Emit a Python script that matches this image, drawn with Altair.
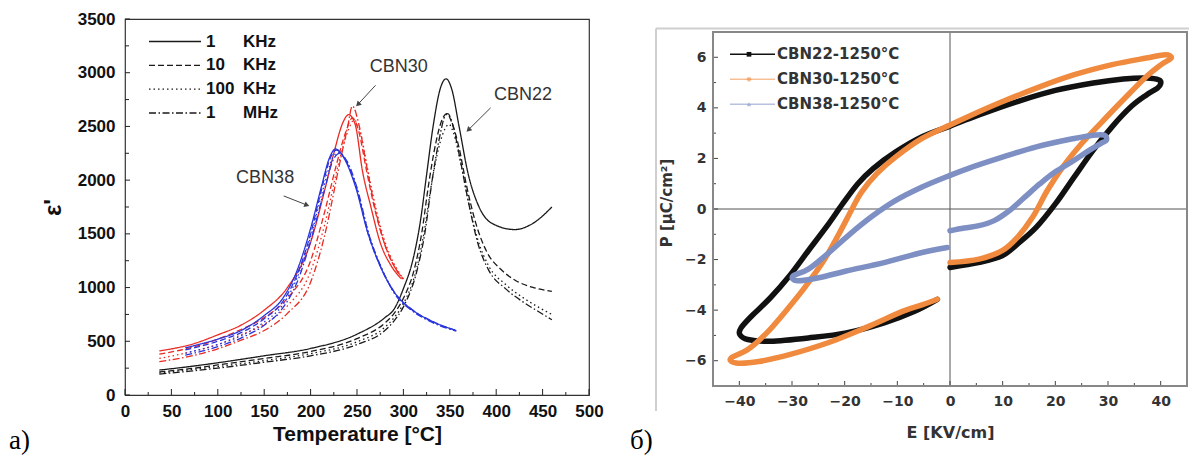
import altair as alt
import pandas as pd

# ---------------- Panel a: permittivity vs temperature ----------------
comps = ["CBN22", "CBN30", "CBN38"]
freqs = ["1 KHz", "10 KHz", "100 KHz", "1 MHz"]

cbn22_T = {
    "1 KHz": [37, 70, 100, 150, 200, 250, 280, 290, 300, 310, 318, 325, 332, 340, 346, 352, 360, 370, 380, 395, 420, 440, 460],
    "10 KHz": [37, 70, 100, 150, 200, 250, 280, 290, 300, 312, 320, 327, 335, 342, 347, 352, 360, 368, 378, 390, 405, 420, 440, 460],
    "100 KHz": [37, 70, 100, 150, 200, 250, 280, 290, 300, 314, 322, 330, 338, 345, 349, 354, 362, 370, 380, 392, 410, 430, 445, 460],
    "1 MHz": [37, 70, 100, 150, 200, 250, 280, 290, 300, 315, 323, 331, 339, 345, 348, 353, 361, 370, 380, 392, 410, 430, 445, 460],
}
cbn22_eps = {
    "1 KHz": [232, 265, 300, 365, 433, 566, 720, 800, 990, 1250, 1600, 2050, 2500, 2860, 2943, 2850, 2500, 2050, 1780, 1600, 1540, 1600, 1750],
    "10 KHz": [215, 245, 280, 340, 405, 525, 670, 760, 900, 1180, 1520, 1950, 2350, 2570, 2620, 2540, 2300, 1950, 1600, 1330, 1170, 1070, 1000, 965],
    "100 KHz": [205, 235, 265, 320, 385, 495, 630, 720, 850, 1170, 1500, 1950, 2300, 2480, 2520, 2440, 2150, 1800, 1450, 1200, 1030, 900, 820, 750],
    "1 MHz": [195, 222, 250, 305, 365, 470, 600, 690, 820, 1170, 1500, 2000, 2400, 2600, 2620, 2520, 2200, 1800, 1420, 1160, 990, 860, 780, 700],
}
cbn30_T = {
    "1 KHz": [37, 75, 100, 125, 150, 175, 200, 215, 225, 235, 241, 248, 256, 265, 275, 287, 298],
    "10 KHz": [37, 75, 100, 125, 150, 175, 200, 215, 228, 238, 245, 252, 260, 270, 280, 290, 300],
    "100 KHz": [37, 75, 100, 125, 150, 175, 200, 215, 230, 240, 247, 254, 262, 272, 282, 292, 300],
    "1 MHz": [37, 75, 100, 125, 150, 175, 200, 215, 230, 240, 245, 252, 260, 270, 280, 290, 300],
}
cbn30_eps = {
    "1 KHz": [410, 480, 560, 650, 790, 1000, 1420, 1900, 2250, 2540, 2610, 2520, 2080, 1750, 1420, 1200, 1080],
    "10 KHz": [380, 450, 520, 610, 720, 900, 1250, 1700, 2150, 2450, 2580, 2450, 2100, 1700, 1400, 1200, 1080],
    "100 KHz": [340, 410, 470, 560, 660, 830, 1150, 1580, 2150, 2450, 2560, 2430, 2080, 1680, 1380, 1190, 1080],
    "1 MHz": [310, 370, 430, 510, 600, 760, 1050, 1480, 2100, 2500, 2690, 2520, 2150, 1720, 1400, 1200, 1080],
}
cbn38_T = {
    "1 KHz": [65, 100, 125, 150, 170, 185, 200, 212, 220, 227, 235, 248, 262, 275, 290, 310, 330, 357],
    "10 KHz": [65, 100, 125, 150, 170, 185, 200, 212, 222, 228, 236, 249, 262, 275, 290, 310, 330, 357],
    "100 KHz": [65, 100, 125, 150, 170, 185, 200, 213, 224, 230, 238, 250, 263, 276, 290, 310, 330, 357],
    "1 MHz": [65, 100, 125, 150, 170, 185, 200, 214, 225, 231, 239, 250, 263, 276, 290, 310, 330, 357],
}
cbn38_eps = {
    "1 KHz": [440, 520, 600, 740, 900, 1150, 1550, 1950, 2200, 2290, 2220, 1950, 1500, 1200, 960, 790, 690, 600],
    "10 KHz": [420, 500, 580, 710, 870, 1110, 1500, 1920, 2220, 2280, 2210, 1940, 1500, 1200, 960, 790, 690, 600],
    "100 KHz": [390, 470, 550, 680, 840, 1080, 1470, 1900, 2210, 2260, 2190, 1920, 1490, 1190, 955, 785, 685, 598],
    "1 MHz": [370, 450, 530, 650, 810, 1040, 1430, 1880, 2200, 2250, 2180, 1930, 1490, 1190, 950, 780, 680, 595],
}

# annotation labels (data coordinates)
ann_labels = ["CBN30", "CBN22", "CBN38"]
ann_text_T = [295, 429, 151]
ann_text_eps = [3053, 2790, 2023]
ann_from_T = [270, 394, 171]
ann_from_eps = [2883, 2673, 1853]
ann_to_T = [251, 370, 196]
ann_to_eps = [2705, 2468, 1768]
ann_angle = [225, 226, 111]

x_major = list(range(0, 501, 50))
x_minor = list(range(25, 500, 50))
y_major = list(range(0, 3501, 500))
y_minor = list(range(250, 3500, 500))

# ---------------- Panel b: hysteresis loops ----------------
loop_names = ["CBN22-1250°C", "CBN30-1250°C", "CBN38-1250°C"]
E22 = [0, 5.6, 9.9, 12.8, 16.4, 20, 23.6, 27.2, 30.8, 34.4, 37.3, 39.4, 40, 39.7, 37.3, 32.9, 27.2, 20, 12.8, 5.5, 0,
       -5.3, -10.3, -14.6, -17.5, -20.4, -23.3, -26.9, -30.5, -34.1, -37.7, -39.7, -39.9, -38.4, -34.1, -26.9, -19.7,
       -12.5, -6.7, -2.4]
P22 = [-2.31, -2.11, -1.85, -1.39, -0.72, 0.2, 1.27, 2.33, 3.26, 4.05, 4.51, 4.78, 4.95, 5.1, 5.18, 5.14, 4.98, 4.69,
       4.25, 3.72, 3.28, 2.86, 2.26, 1.6, 1.0, 0.2, -0.66, -1.65, -2.65, -3.51, -4.24, -4.71, -4.97, -5.16, -5.23, -5.1,
       -4.9, -4.5, -4.04, -3.57]
E30 = [0, 5.5, 9.9, 12.8, 15.7, 18.5, 21.4, 25, 28.6, 32.9, 37.3, 40.1, 42, 40.9, 37.3, 30.8, 23.6, 16.4, 9.2, 3.4, 0,
       -5.3, -10.3, -13.9, -16.8, -18.6, -21.1, -24, -27.6, -31.2, -34.8, -38.4, -41.6, -40.6, -36.3, -30.5, -23.3,
       -16.1, -8.9, -5.3, -2.4]
P30 = [-2.12, -1.98, -1.65, -1.12, -0.32, 0.74, 1.66, 2.59, 3.39, 4.32, 5.24, 5.71, 5.97, 6.1, 5.97, 5.71, 5.31, 4.78,
       4.18, 3.65, 3.32, 2.79, 2.06, 1.4, 0.67, 0.0, -0.99, -2.05, -3.11, -4.04, -4.9, -5.56, -5.9, -6.09, -6.03, -5.76,
       -5.3, -4.7, -4.04, -3.79, -3.57]
E38 = [0, 2.7, 5.5, 8.4, 11.3, 14.2, 17.1, 20, 23.6, 26.5, 28.6, 29.7, 29.3, 27.2, 23.6, 16.4, 9.2, 3.4, 0, -5.3,
       -10.3, -14.6, -19, -23.3, -26.9, -29.8, -29, -24.7, -19.7, -12.5, -5.3, -0.5]
P38 = [-0.86, -0.75, -0.66, -0.46, -0.06, 0.47, 1.0, 1.47, 1.93, 2.33, 2.59, 2.72, 2.92, 2.92, 2.79, 2.46, 2.0, 1.6,
       1.33, 0.87, 0.34, -0.26, -0.99, -1.78, -2.38, -2.65, -2.84, -2.71, -2.45, -2.12, -1.72, -1.52]

e_major = list(range(-40, 41, 10))
e_minor = list(range(-35, 41, 10))
p_major = list(range(-6, 7, 2))
p_minor = list(range(-5, 6, 2))
P_LO, P_HI = -7, 7

# ---------------- build tables ----------------
rows = []
for comp, Td, Ed in [("CBN22", cbn22_T, cbn22_eps), ("CBN30", cbn30_T, cbn30_eps), ("CBN38", cbn38_T, cbn38_eps)]:
    for f in freqs:
        for t, e in zip(Td[f], Ed[f]):
            rows.append({"T": t, "eps": e, "comp": comp, "freq": f})
df_a = pd.DataFrame(rows)

loop_rows = []
for name, Es, Ps in zip(loop_names, [E22, E30, E38], [P22, P30, P38]):
    for i, (e, p) in enumerate(zip(Es, Ps)):
        loop_rows.append({"E": e, "P": p, "sample": name, "i": i})
df_b = pd.DataFrame(loop_rows)

ann_df = pd.DataFrame({"label": ann_labels, "tT": ann_text_T, "tE": ann_text_eps,
                       "fT": ann_from_T, "fE": ann_from_eps, "eT": ann_to_T, "eE": ann_to_eps,
                       "ang": ann_angle})

SANS = "Liberation Sans"
DJ = "DejaVu Sans"
W_A, H_A = 464, 376
W_B, H_B0 = 474, 354          # visible frame of panel b
TOP_GAP = 13                  # panel b frame starts lower than panel a
H_B = H_B0 + TOP_GAP
P_TOP = P_HI + TOP_GAP * (P_HI - P_LO) / H_B0

dash_range = [[1, 0], [6, 3], [1.5, 3], [7, 2.5, 1.5, 2.5]]
comp_colors = ["#1a1a1a", "#ea2a22", "#2b35dc"]

xs_a = alt.X("T:Q", scale=alt.Scale(domain=[0, 500], nice=False),
             axis=alt.Axis(values=x_major, format="d", tickSize=0, grid=False, domain=False, labelFlush=False,
                           labelFont=SANS, labelFontSize=17, labelFontWeight="bold", labelColor="#111",
                           labelPadding=8, title="Temperature [°C]", titleFont=SANS, titleFontSize=21,
                           titleFontWeight="bold", titleColor="#111", titlePadding=4))
ys_a = alt.Y("eps:Q", scale=alt.Scale(domain=[0, 3500], nice=False),
             axis=alt.Axis(values=y_major, format="d", tickSize=0, grid=False, domain=False, labelFlush=False,
                           labelFont=SANS, labelFontSize=17, labelFontWeight="bold", labelColor="#111",
                           labelPadding=10, title="ε'", titleFont=SANS, titleFontSize=24,
                           titleFontWeight="bold", titleColor="#111", titlePadding=12))

curves = alt.Chart(df_a).mark_line(strokeWidth=1.3, interpolate="monotone").encode(
    x=xs_a, y=ys_a,
    color=alt.Color("comp:N", scale=alt.Scale(domain=comps, range=comp_colors), legend=None),
    strokeDash=alt.StrokeDash("freq:N", scale=alt.Scale(domain=freqs, range=dash_range), legend=None),
)

tick_layers_a = []
for vals, ln in [(x_major, 6), (x_minor, 3)]:
    tick_layers_a.append(alt.Chart(pd.DataFrame({"T": vals})).mark_rule(color="#222", strokeWidth=1).encode(
        x=alt.X("T:Q"), y=alt.value(H_A), y2=alt.value(H_A - ln)))
for vals, ln in [(y_major, 5), (y_minor, 4)]:
    tick_layers_a.append(alt.Chart(pd.DataFrame({"eps": vals})).mark_rule(color="#222", strokeWidth=1).encode(
        y=alt.Y("eps:Q"), x=alt.value(0), x2=alt.value(ln)))

legend_a = []
leg_rows_y = [22.5, 46.3, 70.2, 94]
leg_num = ["1", "10", "100", "1"]
leg_unit = ["KHz", "KHz", "KHz", "MHz"]
for k, f in enumerate(freqs):
    legend_a.append(alt.Chart(pd.DataFrame({"f": [f]})).mark_rule(color="#1a1a1a", strokeWidth=1.3).encode(
        x=alt.value(24), x2=alt.value(76), y=alt.value(leg_rows_y[k]),
        strokeDash=alt.value(dash_range[k])))
    legend_a.append(alt.Chart(pd.DataFrame({"t": [leg_num[k]]})).mark_text(
        align="left", baseline="middle", font=SANS, fontSize=17, fontWeight="bold", color="#111").encode(
        x=alt.value(81), y=alt.value(leg_rows_y[k]), text="t:N"))
    legend_a.append(alt.Chart(pd.DataFrame({"t": [leg_unit[k]]})).mark_text(
        align="left", baseline="middle", font=SANS, fontSize=17, fontWeight="bold", color="#111").encode(
        x=alt.value(118), y=alt.value(leg_rows_y[k]), text="t:N"))

ann_text = alt.Chart(ann_df).mark_text(font=SANS, fontSize=18, color="#333", baseline="middle").encode(
    x="tT:Q", y="tE:Q", text="label:N")
ann_line = alt.Chart(ann_df).mark_rule(color="#444", strokeWidth=1).encode(
    x="fT:Q", y="fE:Q", x2="eT:Q", y2="eE:Q")
ann_head = alt.Chart(ann_df).mark_point(shape="triangle-up", filled=True, color="#444", size=35, opacity=1).encode(
    x="eT:Q", y="eE:Q", angle=alt.Angle("ang:Q", scale=None))

tag_a = alt.Chart(pd.DataFrame({"t": ["а)"]})).mark_text(
    align="left", baseline="alphabetic", font="Liberation Serif", fontSize=27, color="#000").encode(
    x=alt.value(-116), y=alt.value(430), text="t:N")

panel_a = alt.layer(*tick_layers_a, curves, *legend_a, ann_line, ann_head, ann_text, tag_a).properties(
    width=W_A, height=H_A, view=alt.ViewBackground(stroke="#333", strokeWidth=1.2))

# ---------------- panel b ----------------
loop_colors = ["#111111", "#ef8a3e", "#7e8fc4"]
xs_b = alt.X("E:Q", scale=alt.Scale(domain=[-45, 45], nice=False),
             axis=alt.Axis(values=e_major, format="d", tickSize=0, grid=False, domain=False, labelFlush=False,
                           labelFont=DJ, labelFontSize=14, labelFontWeight="bold", labelColor="#333",
                           labelPadding=8, title="E [KV/cm]", titleFont=DJ, titleFontSize=16,
                           titleFontWeight="bold", titleColor="#333", titlePadding=16))
ys_b = alt.Y("P:Q", scale=alt.Scale(domain=[P_LO, P_TOP], nice=False),
             axis=alt.Axis(values=p_major, format="d", tickSize=0, grid=False, domain=False, labelFlush=False,
                           labelFont=DJ, labelFontSize=14, labelFontWeight="bold", labelColor="#333",
                           labelPadding=7, title="P [μC/cm²]", titleFont=DJ, titleFontSize=15,
                           titleFontWeight="bold", titleColor="#333", titlePadding=10))

frame_b = [
    alt.Chart(pd.DataFrame({"f": [0]})).mark_rule(color="#cfcfcf", strokeWidth=2).encode(
        x=alt.value(-57), y=alt.value(TOP_GAP - 3.5), y2=alt.value(H_B + 25)),
    alt.Chart(pd.DataFrame({"f": [0]})).mark_rule(color="#cfcfcf", strokeWidth=2).encode(
        x=alt.value(-57), x2=alt.value(476), y=alt.value(TOP_GAP - 3.5)),
]

zero_v = alt.Chart(pd.DataFrame({"E": [0]})).mark_rule(color="#555", strokeWidth=1).encode(
    x=xs_b, y=alt.datum(P_HI), y2=alt.datum(P_LO))
zero_h = alt.Chart(pd.DataFrame({"P": [0]})).mark_rule(color="#555", strokeWidth=1).encode(y=ys_b)

border_b = alt.Chart(pd.DataFrame({"f": [0]})).mark_rect(
    fill="white", fillOpacity=0, stroke="#888", strokeWidth=2).encode(
    x=alt.value(0), x2=alt.value(W_B), y=alt.datum(P_HI), y2=alt.datum(P_LO))

loops = alt.Chart(df_b).mark_line(strokeWidth=5.5, interpolate="cardinal", strokeCap="round",
                                  strokeJoin="round").encode(
    x=alt.X("E:Q"), y=alt.Y("P:Q"),
    color=alt.Color("sample:N", scale=alt.Scale(domain=loop_names, range=loop_colors), legend=None),
    order=alt.Order("i:Q"),
)

tick_layers_b = []
for vals, ln in [(e_major, 5), (e_minor, 3)]:
    tick_layers_b.append(alt.Chart(pd.DataFrame({"E": vals})).mark_rule(color="#444", strokeWidth=1).encode(
        x=alt.X("E:Q"), y=alt.value(H_B), y2=alt.value(H_B - ln)))
for vals, ln in [(p_major, 5), (p_minor, 3)]:
    tick_layers_b.append(alt.Chart(pd.DataFrame({"P": vals})).mark_rule(color="#444", strokeWidth=1).encode(
        y=alt.Y("P:Q"), x=alt.value(0), x2=alt.value(ln)))

legend_b = []
leg_b_y = [22.3 + TOP_GAP, 47.3 + TOP_GAP, 72.3 + TOP_GAP]
leg_shapes = ["square", "circle", "triangle-up"]
leg_line_op = [1.0, 0.55, 0.55]
for k, name in enumerate(loop_names):
    legend_b.append(alt.Chart(pd.DataFrame({"s": [name]})).mark_rule(
        color=loop_colors[k], strokeWidth=1.5, opacity=leg_line_op[k]).encode(
        x=alt.value(17), x2=alt.value(62), y=alt.value(leg_b_y[k])))
    legend_b.append(alt.Chart(pd.DataFrame({"s": [name]})).mark_point(
        shape=leg_shapes[k], filled=True, color=loop_colors[k], size=22, opacity=leg_line_op[k]).encode(
        x=alt.value(36), y=alt.value(leg_b_y[k])))
    legend_b.append(alt.Chart(pd.DataFrame({"s": [name]})).mark_text(
        align="left", baseline="middle", font=DJ, fontSize=15, fontWeight="bold", color="#333").encode(
        x=alt.value(64), y=alt.value(leg_b_y[k]), text="s:N"))

tag_b = alt.Chart(pd.DataFrame({"t": ["б)"]})).mark_text(
    align="left", baseline="alphabetic", font="Liberation Serif", fontSize=27, color="#000").encode(
    x=alt.value(-83), y=alt.value(430), text="t:N")

panel_b = alt.layer(*frame_b, zero_v, zero_h, *tick_layers_b, loops, border_b, *legend_b, tag_b).properties(
    width=W_B, height=H_B, view=alt.ViewBackground(stroke=None))

chart = alt.hconcat(panel_a, panel_b, spacing=26).resolve_scale(
    x="independent", y="independent", color="independent", strokeDash="independent"
).properties(
    padding={"left": 8, "top": 9, "right": 0, "bottom": 0},
    background="white",
)

chart.save("out.html", embed_options={"renderer": "svg", "actions": False})
